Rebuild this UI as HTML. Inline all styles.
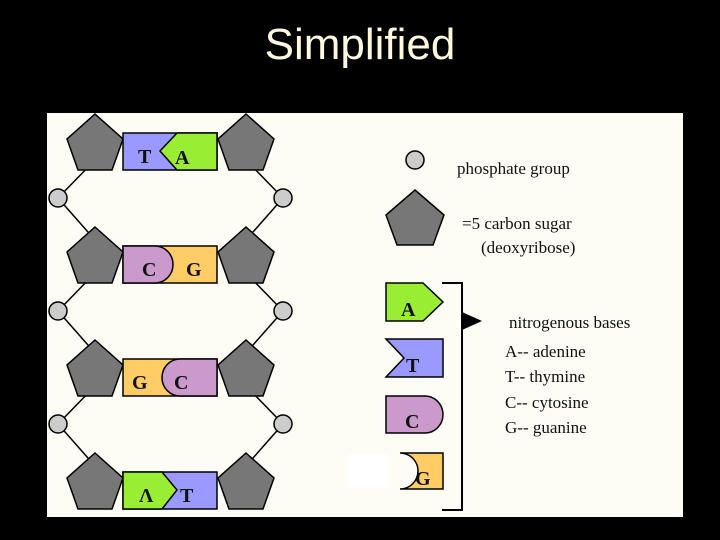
<!DOCTYPE html>
<html><head><style>
body{margin:0;background:#000;width:720px;height:540px;overflow:hidden;position:relative}
.t{position:absolute;left:0;width:720px;top:20px;text-align:center;color:#fff8e0;font:44px "Liberation Sans",sans-serif}
svg{position:absolute;left:0;top:0}
</style></head><body>
<div class="t">Simplified</div>
<svg width="720" height="540" viewBox="0 0 720 540">
<rect x="47" y="113" width="636" height="404" fill="#fdfdf5"/>
<defs>
<polygon id="p" points="28,0 56,25 45,56 11,56 0,25" fill="#777" stroke="#000" stroke-width="1.5"/>
</defs>
<g stroke="#000" stroke-width="1.5">
<line x1="58" y1="198" x2="95" y2="160"/><line x1="58" y1="198" x2="95" y2="240"/>
<line x1="58" y1="311" x2="95" y2="273"/><line x1="58" y1="311" x2="95" y2="353"/>
<line x1="58" y1="424" x2="95" y2="386"/><line x1="58" y1="424" x2="95" y2="466"/>
<line x1="283" y1="198" x2="246" y2="160"/><line x1="283" y1="198" x2="246" y2="240"/>
<line x1="283" y1="311" x2="246" y2="273"/><line x1="283" y1="311" x2="246" y2="353"/>
<line x1="283" y1="424" x2="246" y2="386"/><line x1="283" y1="424" x2="246" y2="466"/>
</g>
<g fill="#ccc" stroke="#000" stroke-width="1.5">
<circle cx="58" cy="198" r="9"/><circle cx="58" cy="311" r="9"/><circle cx="58" cy="424" r="9"/>
<circle cx="283" cy="198" r="9"/><circle cx="283" cy="311" r="9"/><circle cx="283" cy="424" r="9"/>
<circle cx="415" cy="160" r="9"/>
</g>
<use href="#p" x="67" y="114"/><use href="#p" x="218" y="114"/>
<use href="#p" x="67" y="227"/><use href="#p" x="218" y="227"/>
<use href="#p" x="67" y="340"/><use href="#p" x="218" y="340"/>
<use href="#p" x="67" y="453"/><use href="#p" x="218" y="453"/>
<polygon points="415,190 444,215 433,245 397,245 386,215" fill="#777" stroke="#000" stroke-width="1.5"/>
<g stroke="#000" stroke-width="1.5">
<rect x="123" y="133" width="94" height="37" fill="#9999ff"/>
<polygon points="177,133 217,133 217,170 177,170 160,151" fill="#99ee33"/>
<rect x="123" y="246" width="94" height="37" fill="#ffcc66"/>
<path d="M123,246 H155 A18,18.5 0 0 1 155,283 H123 Z" fill="#cc99cc"/>
<rect x="123" y="359" width="94" height="37" fill="#ffcc66"/>
<path d="M217,359 H180 A18,18.5 0 0 0 180,396 H217 Z" fill="#cc99cc"/>
<rect x="123" y="472" width="94" height="37" fill="#9999ff"/>
<polygon points="123,472 162,472 177,490 162,509 123,509" fill="#99ee33"/>
<polygon points="386,283 423,283 443,302 423,321 386,321" fill="#99ee33"/>
<polygon points="386,339 443,339 443,377 386,377 404,358" fill="#9999ff"/>
<path d="M386,396 H425 A18,18.5 0 0 1 425,433 H386 Z" fill="#cc99cc"/>
<path d="M400,453 H443 V489 H400 A18,18 0 0 0 400,453 Z" fill="#ffcc66"/>
<path d="M442,283 H462 V510 H442" fill="none" stroke-width="2"/>
</g>
<rect x="348" y="454" width="40" height="34" fill="#fff"/>
<polygon points="462,312 482,321 462,330" fill="#000"/>
<g font-family="Liberation Serif,serif" font-weight="bold" font-size="20" fill="#111">
<text x="138" y="163">T</text><text x="175" y="164">A</text>
<text x="142" y="276">C</text><text x="186" y="276">G</text>
<text x="132" y="389">G</text><text x="174" y="389">C</text>
<text x="139" y="502">Λ</text><text x="180" y="502">T</text>
<text x="401" y="316">A</text><text x="406" y="372">T</text>
<text x="405" y="428">C</text><text x="415" y="485">G</text>
</g>
<g font-family="Liberation Serif,serif" font-size="17" fill="#111">
<text x="457" y="174">phosphate group</text>
<text x="462" y="229">=5 carbon sugar</text>
<text x="481" y="253">(deoxyribose)</text>
<text x="509" y="328">nitrogenous bases</text>
<text x="505" y="357">A-- adenine</text>
<text x="505" y="382">T-- thymine</text>
<text x="505" y="408">C-- cytosine</text>
<text x="505" y="433">G-- guanine</text>
</g>
</svg>
</body></html>
